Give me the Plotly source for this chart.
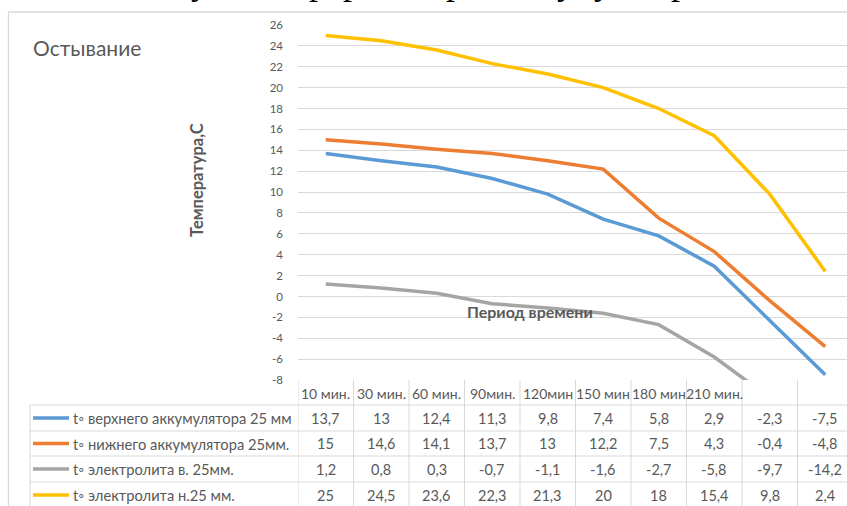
import plotly.graph_objects as go

# ---------------- data ----------------
categories = ["10 мин.", "30 мин.", "60 мин.", "90мин.", "120мин", "150 мин", "180 мин", "210 мин.", "", ""]
series_names = [
    "t◦ верхнего аккумулятора 25 мм",
    "t◦ нижнего аккумулятора 25мм.",
    "t◦ электролита в. 25мм.",
    "t◦ электролита н.25 мм.",
]
upper_acc = [13.7, 13, 12.4, 11.3, 9.8, 7.4, 5.8, 2.9, -2.3, -7.5]
lower_acc = [15, 14.6, 14.1, 13.7, 13, 12.2, 7.5, 4.3, -0.4, -4.8]
electrolyte_v = [1.2, 0.8, 0.3, -0.7, -1.1, -1.6, -2.7, -5.8, -9.7, -14.2]
electrolyte_n = [25, 24.5, 23.6, 22.3, 21.3, 20, 18, 15.4, 9.8, 2.4]
y_ticks = list(range(-8, 27, 2))

colors = ["#5B9BD5", "#ED7D31", "#A5A5A5", "#FFC000"]
all_series = [upper_acc, lower_acc, electrolyte_v, electrolyte_n]

# ---------------- layout geometry ----------------
W, H = 847, 506
L, T = 298, 25
PLOT_BOTTOM = 380
R, B = 0, H - PLOT_BOTTOM
PW, PH = W - L - R, PLOT_BOTTOM - T
COL = 55.5  # px per category
FONT = "Lato, 'Open Sans', sans-serif"
TXT = "#595959"
GRID = "#D9D9D9"


def px(sx):
    return (sx - L) / PW


def py(sy):
    return (PLOT_BOTTOM - sy) / PH


def fmt(v):
    return f"{v:g}".replace(".", ",")


idx = list(range(len(categories)))
fig = go.Figure()
for name, vals, c in zip(series_names, all_series, colors):
    fig.add_trace(go.Scatter(x=idx, y=vals, mode="lines", name=name,
                             line=dict(color=c, width=3.5), showlegend=False,
                             hoverinfo="skip"))

shapes = []
ann = []

# chart border
shapes.append(dict(type="rect", xref="paper", yref="paper", x0=px(8.5), x1=px(880), y0=py(12), y1=py(540),
                   line=dict(color=GRID, width=1.3), fillcolor="rgba(0,0,0,0)", layer="below"))

row_bounds = [405, 431, 456, 482, 508]
# table vertical lines
for i in range(len(categories) + 1):
    shapes.append(dict(type="line", xref="x", yref="paper", x0=i - 0.5, x1=i - 0.5,
                       y0=py(380), y1=py(540), line=dict(color=GRID, width=1)))
shapes.append(dict(type="line", xref="paper", yref="paper", x0=px(30), x1=px(30),
                   y0=py(405), y1=py(540), line=dict(color=GRID, width=1)))
for yb in row_bounds[:-1]:
    shapes.append(dict(type="line", xref="paper", yref="paper", x0=px(30), x1=1,
                       y0=py(yb), y1=py(yb), line=dict(color=GRID, width=1)))

# header labels
for i, c in enumerate(categories):
    if c:
        ann.append(dict(x=i, xref="x", y=py(393), yref="paper", text=c, showarrow=False,
                        font=dict(family=FONT, size=14, color=TXT), xanchor="center", yanchor="middle"))

# rows
for r, (name, vals, c) in enumerate(zip(series_names, all_series, colors)):
    yc = (row_bounds[r] + row_bounds[r + 1]) / 2
    shapes.append(dict(type="line", xref="paper", yref="paper", x0=px(33), x1=px(69),
                       y0=py(yc), y1=py(yc), line=dict(color=c, width=3.5)))
    ann.append(dict(x=px(70.5), xref="paper", y=py(yc), yref="paper", text=name, showarrow=False,
                    font=dict(family=FONT, size=14.7, color=TXT), xanchor="left", yanchor="middle"))
    for i, v in enumerate(vals):
        ann.append(dict(x=i, xref="x", y=py(yc), yref="paper", text=fmt(v), showarrow=False,
                        font=dict(family=FONT, size=14.5, color=TXT), xanchor="center", yanchor="middle"))

# titles
ann.append(dict(x=px(31), xref="paper", y=py(47), yref="paper", text="Остывание", showarrow=False,
                font=dict(family=FONT, size=21, color=TXT), xanchor="left", yanchor="middle"))
ann.append(dict(x=px(197), xref="paper", y=py(180), yref="paper", text="<b>Температура,С</b>",
                showarrow=False, textangle=-90,
                font=dict(family=FONT, size=16.5, color=TXT), xanchor="center", yanchor="middle"))
ann.append(dict(x=px(530), xref="paper", y=py(311), yref="paper", text="<b>Период времени</b>",
                showarrow=False, font=dict(family=FONT, size=16, color=TXT),
                xanchor="center", yanchor="middle"))

# clipped line of document text above the chart (only descenders visible)
top_glyphs = [("у", 200), ("р", 318), ("р", 352), ("р", 455), ("у", 566), ("у", 603), ("р", 680)]
for g, gx in top_glyphs:
    ann.append(dict(x=px(gx), xref="paper", y=py(4), yref="paper", text=g, showarrow=False,
                    font=dict(family="Liberation Serif, serif", size=36, color="#000000"),
                    xanchor="center", yanchor="bottom"))

fig.update_layout(
    width=W, height=H,
    margin=dict(l=L, r=R, t=T, b=B, autoexpand=False),
    paper_bgcolor="white", plot_bgcolor="white",
    shapes=shapes, annotations=ann,
    xaxis=dict(range=[-0.5, -0.5 + PW / COL], showticklabels=False, showgrid=False,
               zeroline=False, showline=False),
    yaxis=dict(range=[-8, 26], tickvals=y_ticks, ticktext=[str(t) for t in y_ticks],
               showgrid=True, gridcolor=GRID, gridwidth=1, zeroline=False, showline=False,
               ticks="", ticklabelstandoff=14,
               tickfont=dict(family=FONT, size=11.5, color=TXT)),
)

fig.write_html("out.html", config={"displayModeBar": False},
               post_script="document.body.style.margin='0px';document.body.style.overflow='hidden';")
